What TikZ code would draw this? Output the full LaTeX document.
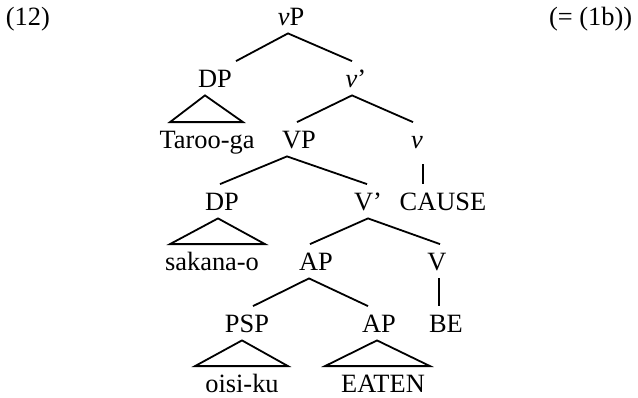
\documentclass[tikz,border=0pt]{standalone}
\usepackage{fontspec}
\setmainfont{Liberation Serif}

\begin{document}
\begin{tikzpicture}[x = 1pt, y = -1pt, % one unit per pixel, y going down
                line width = 1.8pt % line style
            ]

            \tikzstyle{every node}=[anchor = base, inner xsep = 0pt,
            inner ysep = 7.5pt, text height = 17.5pt, text depth = 0pt,
            font = \fontsize{26.4}{32}\selectfont]

            \useasboundingbox (0,0) rectangle (638,397);

            \node (ex) [anchor = base west] at (5,25) {(12)};
            \node (ref) [anchor = base east] at (633,25) {(= (1b))};

            \node (vP) at (291,25) {\textit{v}P};
            \node (DP1) at (215,87) {DP}; \node (vbar) at (356,87) {\textit{v}’};
            \node (Taroo) at (207,148) {Taroo-ga}; \node (VP) at (299,148) {VP};
            \node (v) at (417,148) {\textit{v}};
            \node (DP2) at (222,210) {DP}; \node (Vbar) at (368,210) {V’};
            \node (CAUSE) at (443,210) {CAUSE};
            \node (sakana) at (212,270) {sakana-o}; \node (AP1) at (316,270) {AP};
            \node (V) at (437,270) {V};
            \node (PSP) at (247,332) {PSP}; \node (AP2) at (379,332) {AP};
            \node (BE) at (446,332) {BE};
            \node (oisi) at (242,392) {oisi-ku}; \node (EATEN) at (383,392) {EATEN};

            % branches
            \draw ([xshift=21]DP1.north) -- ([xshift=-3]vP.south) -- ([xshift=-4]vbar.north);
            \draw ([xshift=-2]VP.north) -- ([xshift=-4]vbar.south) -- ([xshift=-4]v.north);
            \draw ([xshift=-2]DP2.north) -- ([xshift=-12]VP.south) -- ([xshift=-1]Vbar.north);
            \draw ([xshift=-6]AP1.north) -- (Vbar.south) -- ([xshift=3]V.north);
            \draw ([xshift=6]PSP.north) -- ([xshift=-7]AP1.south) -- ([xshift=-11]AP2.north);
            \draw[shorten <= 8pt] ([xshift=6]v.south) -- ([xshift=-20]CAUSE.north);
            \draw ([xshift=2]V.south) -- ([xshift=-7]BE.north);

            % triangles
            \draw ([xshift=-10]DP1.south) -- ([xshift=-37]Taroo.north)
            -- ([xshift=36]Taroo.north) -- cycle;
            \draw ([xshift=-4]DP2.south) -- ([xshift=-42]sakana.north)
            -- ([xshift=53]sakana.north) -- cycle;
            \draw ([xshift=-5]PSP.south) -- ([xshift=-47]oisi.north)
            -- ([xshift=46]oisi.north) -- cycle;
            \draw ([xshift=-2]AP2.south) -- ([xshift=-58]EATEN.north)
            -- ([xshift=47]EATEN.north) -- cycle;
        \end{tikzpicture}
\end{document}
